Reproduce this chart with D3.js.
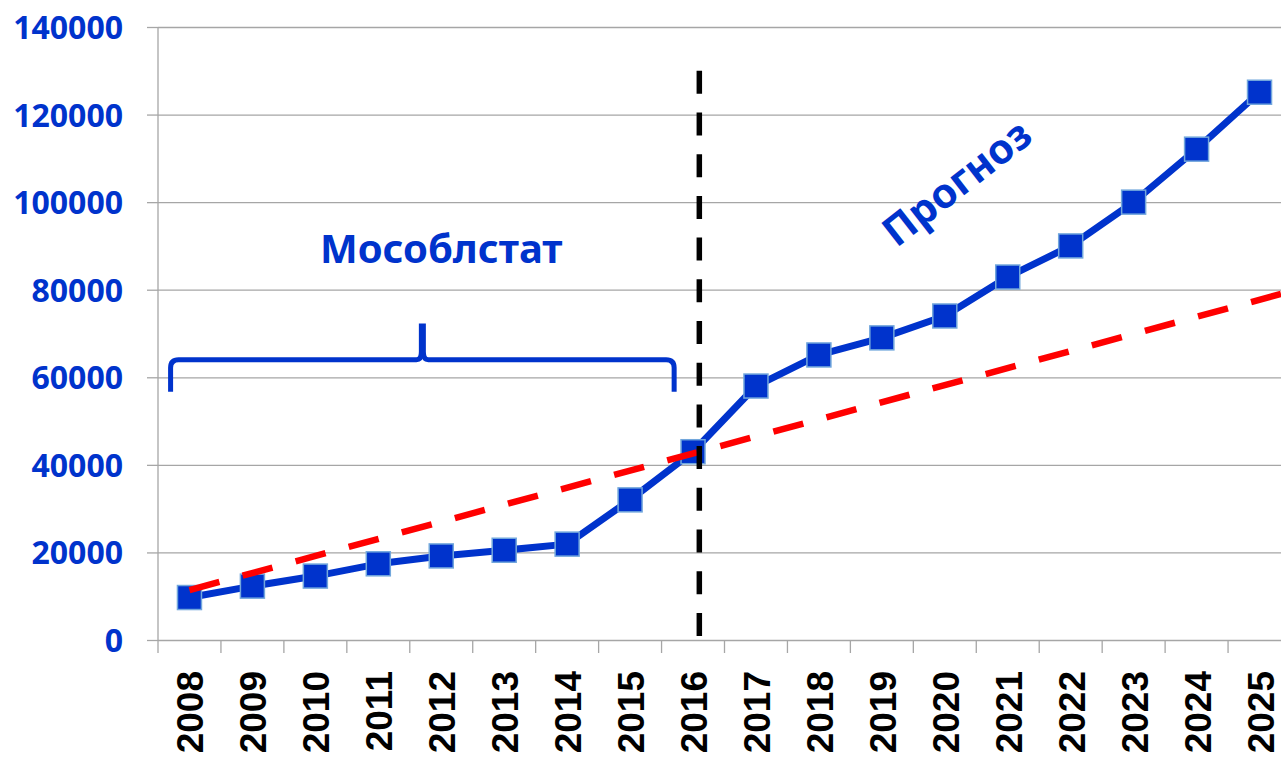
<!DOCTYPE html>
<html>
<head>
<meta charset="utf-8">
<script src="https://cdn.jsdelivr.net/npm/d3@7"></script>
<style>
  body { margin: 0; background: #fff; }
  svg { display: block; }
  .y-label { font-family: 'Noto Sans', sans-serif; font-weight: 700; fill: #0033cc; }
  .x-label { font-family: 'Liberation Sans', Arial, sans-serif; font-weight: 700; fill: #000; }
  .note { font-family: 'Noto Sans', sans-serif; font-weight: 700; fill: #0033cc; }
</style>
</head>
<body>
<div id="chart"></div>
<script>
// data
const years = [2008, 2009, 2010, 2011, 2012, 2013, 2014, 2015, 2016,
  2017, 2018, 2019, 2020, 2021, 2022, 2023, 2024, 2025];
const values = [9700, 12300, 14600, 17400, 19200, 20500, 21900, 32000, 43000,
  58000, 65100, 69000, 74000, 82900, 90000, 100000, 112100, 125100];
const yTicks = [0, 20000, 40000, 60000, 80000, 100000, 120000, 140000];
// linear trend (red dashes), two ends
const trendYears = [2008, 2025.5];
const trendValues = [11400, 79650];
// annotations
const splitYear = 2016.1;
const splitTop = 130000;
const braceYears = [2007.7, 2015.7];
const braceValues = { ends: 56700, bar: 64000, tip: 71700 };
const leftNote = { text: 'Мособлстат', year: 2012.0, value: 86200 };
const rightNote = { text: 'Прогноз', year: 2020.19, value: 104400, angle: -38 };

const width = 1281, height = 757;
const margin = { top: 27, left: 158, bottom: 117 };
const plotRight = 1291;

const svg = d3.select('#chart').append('svg')
  .attr('width', width)
  .attr('height', height);

const x = d3.scaleLinear()
  .domain([years[0] - 0.5, years[years.length - 1] + 0.5])
  .range([margin.left, plotRight]);
const y = d3.scaleLinear()
  .domain([0, 140000])
  .range([height - margin.bottom, margin.top]);

const grid = '#a6a6a6';

// horizontal gridlines + y labels
svg.append('g')
  .attr('transform', `translate(${margin.left},0)`)
  .call(d3.axisLeft(y).tickValues(yTicks).tickSize(11).tickFormat(d3.format('d'))
    .tickPadding(24))
  .call((g) => g.select('.domain').remove())
  .call((g) => g.selectAll('.tick line').clone()
    .attr('x1', 0).attr('x2', plotRight - margin.left))
  .call((g) => g.selectAll('.tick line').attr('stroke', grid).attr('stroke-width', 1.3))
  .call((g) => g.selectAll('.tick text')
    .attr('class', 'y-label')
    .style('font-size', '32px')
    .attr('dy', '0.36em'));

// vertical axis line
svg.append('line')
  .attr('x1', margin.left).attr('x2', margin.left)
  .attr('y1', y(140000)).attr('y2', y(0) + 13)
  .attr('stroke', grid).attr('stroke-width', 1.3);

// category boundaries as ticks
const bounds = years.map((d) => d + 0.5);
svg.append('g')
  .selectAll('line')
  .data(bounds)
  .join('line')
  .attr('x1', (d) => x(d)).attr('x2', (d) => x(d))
  .attr('y1', y(0)).attr('y2', y(0) + 13)
  .attr('stroke', grid).attr('stroke-width', 1.3);

// year labels
svg.append('g')
  .selectAll('text')
  .data(years)
  .join('text')
  .attr('class', 'x-label')
  .attr('transform', (d) => `translate(${x(d) + 14},${y(0) + 31}) rotate(-90)`)
  .attr('text-anchor', 'end')
  .style('font-size', '37px')
  .text((d) => d);

// brace over the statistics period
const bx0 = x(braceYears[0]), bx1 = x(braceYears[1]);
const bm = (bx0 + bx1) / 2;
const yb = y(braceValues.bar), ye = y(braceValues.ends), yt = y(braceValues.tip);
const r = 8;
svg.append('path')
  .attr('d', `M${bx0},${ye} L${bx0},${yb + r} Q${bx0},${yb} ${bx0 + r},${yb}
    L${bm - 6},${yb} Q${bm - 1},${yb} ${bm - 1},${yb - 8} L${bm - 1},${yt}
    L${bm + 1},${yt} L${bm + 1},${yb - 8} Q${bm + 1},${yb} ${bm + 6},${yb}
    L${bx1 - r},${yb} Q${bx1},${yb} ${bx1},${yb + r} L${bx1},${ye}`)
  .attr('fill', 'none')
  .attr('stroke', '#0033cc')
  .attr('stroke-width', 5);

// main series
const line = d3.line()
  .x((d, i) => x(years[i]))
  .y((d) => y(d));

svg.append('path')
  .datum(values)
  .attr('fill', 'none')
  .attr('stroke', '#0033cc')
  .attr('stroke-width', 7)
  .attr('stroke-linejoin', 'round')
  .attr('d', line);

const ms = 24;
svg.append('g')
  .selectAll('rect')
  .data(values)
  .join('rect')
  .attr('x', (d, i) => x(years[i]) - ms / 2)
  .attr('y', (d) => y(d) - ms / 2)
  .attr('width', ms)
  .attr('height', ms)
  .attr('fill', '#0033cc')
  .attr('stroke', '#72a7dc')
  .attr('stroke-width', 1.5);

// trend
svg.append('line')
  .attr('x1', x(trendYears[0])).attr('y1', y(trendValues[0]))
  .attr('x2', x(trendYears[1])).attr('y2', y(trendValues[1]))
  .attr('stroke', '#ff0000')
  .attr('stroke-width', 6.5)
  .attr('stroke-dasharray', '31,24');

// split line
svg.append('line')
  .attr('x1', x(splitYear)).attr('x2', x(splitYear))
  .attr('y1', y(splitTop)).attr('y2', y(0))
  .attr('stroke', '#000')
  .attr('stroke-width', 5.5)
  .attr('stroke-dasharray', '23,18.7');

// notes
svg.append('text')
  .attr('class', 'note')
  .attr('x', x(leftNote.year))
  .attr('y', y(leftNote.value))
  .attr('text-anchor', 'middle')
  .style('font-size', '40px')
  .text(leftNote.text);

svg.append('text')
  .attr('class', 'note')
  .attr('transform', `translate(${x(rightNote.year)},${y(rightNote.value)}) rotate(${rightNote.angle})`)
  .attr('text-anchor', 'middle')
  .attr('dy', '0.35em')
  .style('font-size', '41px')
  .text(rightNote.text);
</script>
</body>
</html>
